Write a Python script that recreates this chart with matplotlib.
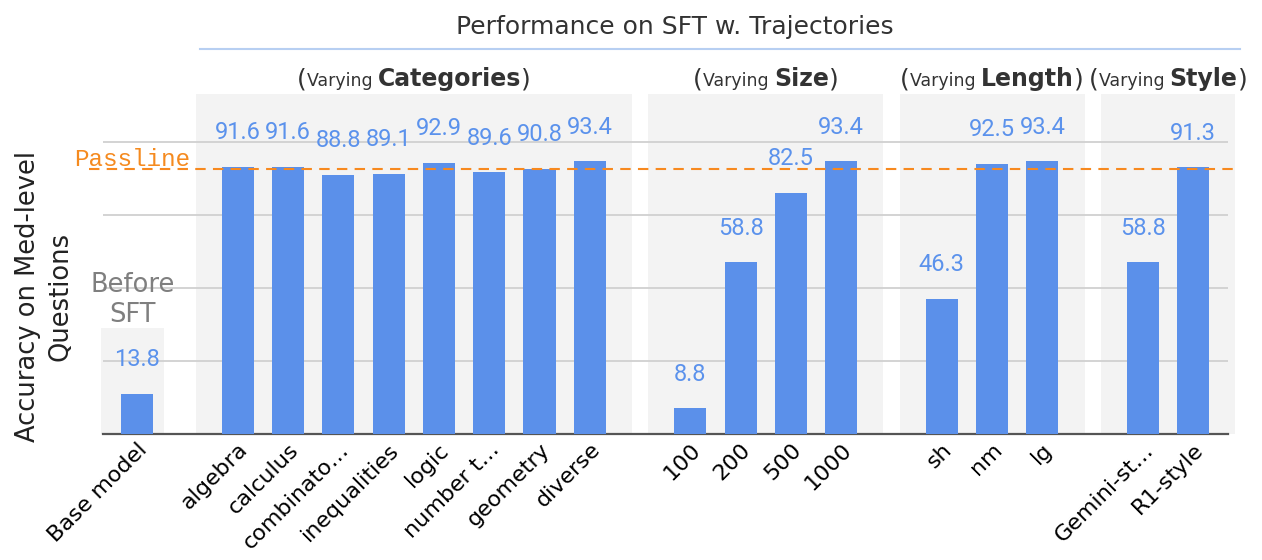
import matplotlib
matplotlib.use("Agg")
import matplotlib.pyplot as plt
from matplotlib.patches import Rectangle
from matplotlib.lines import Line2D
from matplotlib.offsetbox import TextArea, HPacker, AnnotationBbox
from matplotlib.transforms import ScaledTranslation

# data
base_labels = ["Base model"]
base_values = [13.8]
cat_labels = ["algebra", "calculus", "combinato…", "inequalities", "logic",
              "number t…", "geometry", "diverse"]
cat_values = [91.6, 91.6, 88.8, 89.1, 92.9, 89.6, 90.8, 93.4]
size_labels = ["100", "200", "500", "1000"]
size_values = [8.8, 58.8, 82.5, 93.4]
len_labels = ["sh", "nm", "lg"]
len_values = [46.3, 92.5, 93.4]
style_labels = ["Gemini-st…", "R1-style"]
style_values = [58.8, 91.3]
group_names = ["Categories", "Size", "Length", "Style"]
passline = 90.6

BAR = "#5b90ea"
LABEL = "#5b92ec"
PANEL = "#f3f3f3"
DARK = "#333333"

# slot layout: one empty slot between groups
groups = [base_labels, cat_labels, size_labels, len_labels, style_labels]
gvals = [base_values, cat_values, size_values, len_values, style_values]
positions, labels, values, spans = [], [], [], []
slot = 0
for labs, vals in zip(groups, gvals):
    xs = list(range(slot, slot + len(labs)))
    spans.append((xs[0], xs[-1]))
    positions += xs
    labels += labs
    values += vals
    slot = xs[-1] + 2

fig = plt.figure(figsize=(12.62, 5.6), dpi=100)
ax = fig.add_axes([0.0816, 0.225, 0.8914, 0.607])
ymax = 116.4
ax.set_ylim(0, ymax)
ax.set_xlim(-0.68, 21.69)

# grey panels behind each group
m = 0.84
ax.add_patch(Rectangle((spans[0][0] - 0.72, 0), 1.25, 36.2, color=PANEL,
                       zorder=0.1, lw=0, clip_on=False))
for (a, b) in spans[1:]:
    ax.add_patch(Rectangle((a - m, 0), b - a + 2 * m, ymax, color=PANEL,
                           zorder=0.1, lw=0, clip_on=False))

ax.bar(positions, values, width=0.64, color=BAR, zorder=3)
for x, v in zip(positions, values):
    ax.text(x, v + 9.5, f"{v:.1f}", ha="center", va="baseline",
            color=LABEL, fontsize=17, family="Roboto", zorder=4)

ax.set_axisbelow(True)
ax.set_yticks([25, 50, 75, 100])
ax.yaxis.grid(True, color="#d0d0d0", lw=1.3)
ax.tick_params(axis="y", length=0, labelleft=False)
for s in ["top", "left", "right"]:
    ax.spines[s].set_visible(False)
ax.spines["bottom"].set_color("#555555")
ax.spines["bottom"].set_linewidth(1.6)

ax.set_xticks(positions)
ax.set_xticklabels(labels, rotation=45, ha="right", va="center",
                   rotation_mode="anchor", fontsize=16, color="black")
ax.tick_params(axis="x", length=0, pad=9)
shift = ScaledTranslation(0.07, 0, fig.dpi_scale_trans)
for t in ax.get_xticklabels():
    t.set_transform(t.get_transform() + shift)

# passline
ax.plot([-0.96, 21.91], [passline, passline], ls=(0, (5, 3.5)), color="#f7891f",
        lw=1.5, zorder=5, clip_on=False)
ax.text(-1.26, passline + 1.3, "Passline", family="Liberation Mono", fontsize=17.5,
        color="#f58a1f", ha="left", va="baseline", clip_on=False)

ax.text(-0.09, 36.4, "Before\nSFT", ha="center", va="bottom", fontsize=18.5,
        color="#7f7f7f", multialignment="center")

# group headers "(Varying X)"
for name, (a, b) in zip(group_names, spans[1:]):
    parts = [TextArea("(", textprops=dict(fontsize=18, color=DARK)),
             TextArea("Varying ", textprops=dict(fontsize=12.5, color=DARK)),
             TextArea(name, textprops=dict(fontsize=17, color=DARK, fontweight="bold")),
             TextArea(")", textprops=dict(fontsize=18, color=DARK))]
    box = HPacker(children=parts, align="baseline", pad=0, sep=0)
    ab = AnnotationBbox(box, ((a + b) / 2, 1.009), xycoords=ax.get_xaxis_transform(),
                        box_alignment=(0.5, 0), frameon=False, pad=0,
                        annotation_clip=False)
    ax.add_artist(ab)

fig.text(675 / 1262, 1 - 27 / 560, "Performance on SFT w. Trajectories",
         ha="center", va="center", fontsize=18, color=DARK)
fig.add_artist(Line2D([200 / 1262, 1240 / 1262], [1 - 49 / 560, 1 - 49 / 560],
                      color="#b7cff2", lw=1.5))

fig.text(44 / 1262, 1 - 296 / 560, "Accuracy on Med-level\nQuestions", rotation=90,
         ha="center", va="center", fontsize=18.5, color="#222222",
         multialignment="center", linespacing=1.3)

fig.savefig("out.png", dpi=100)
